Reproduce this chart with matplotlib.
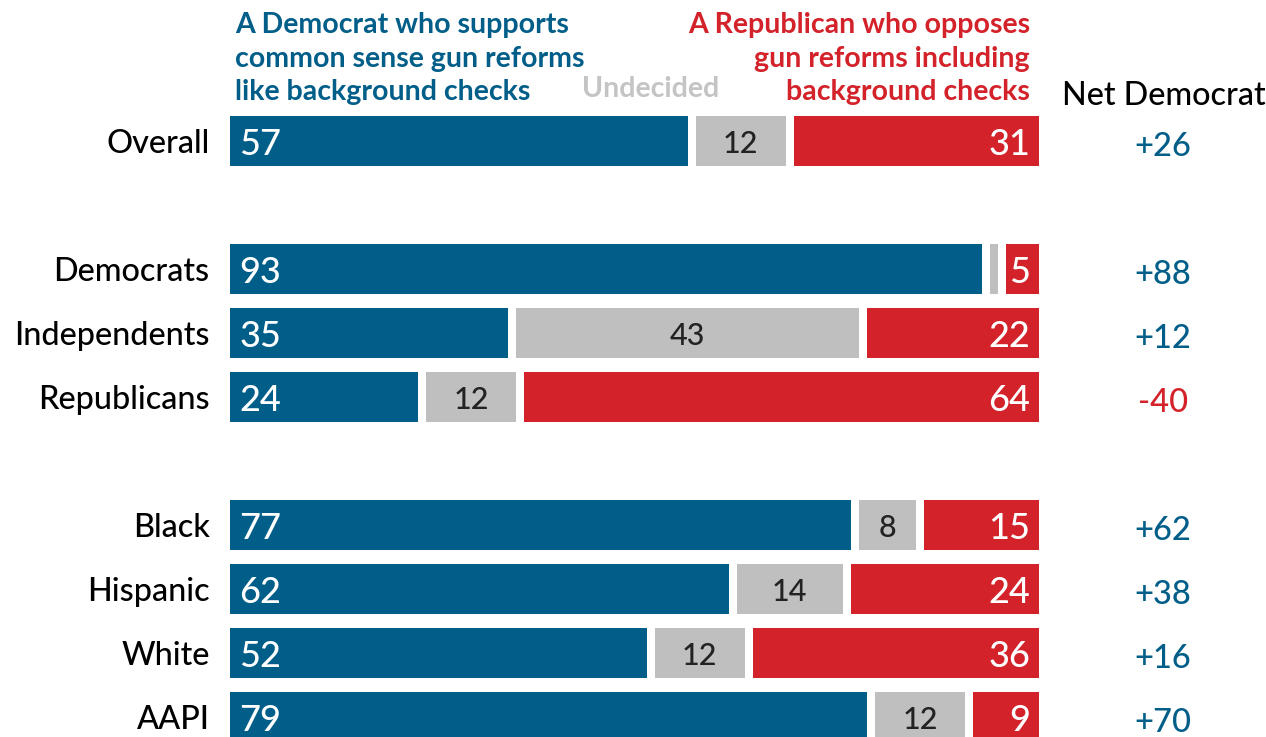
import numpy as np
import matplotlib
matplotlib.use("Agg")
import matplotlib.pyplot as plt

plt.rcParams['font.family'] = ['Lato', 'DejaVu Sans']

groups = ['Overall', 'Democrats', 'Independents', 'Republicans',
          'Black', 'Hispanic', 'White', 'AAPI']
rows = [0, 2, 3, 4, 6, 7, 8, 9]
dem = [57, 93, 35, 24, 77, 62, 52, 79]
und = [12, 2, 43, 12, 8, 14, 12, 12]
rep = [31, 5, 22, 64, 15, 24, 36, 9]
net = ['+26', '+88', '+12', '-40', '+62', '+38', '+16', '+70']

dem_head = ['A Democrat who supports', 'common sense gun reforms', 'like background checks']
rep_head = ['A Republican who opposes', 'gun reforms including', 'background checks']

BLUE = '#005e89'
RED = '#d3222a'
GRAY = '#bfbfbf'

fig = plt.figure(figsize=(12.66, 7.37), dpi=100)
ax = fig.add_axes([0, 0, 1, 1])
ppu = 8.17          # pixels per percentage point
x0 = 226            # pixel position of 0
ax.set_xlim(-x0 / ppu, (1266 - x0) / ppu)
ax.set_ylim((737 - 141) / 64, -141 / 64)
ax.axis('off')

gap = 4 / ppu
h = 50 / 64
dy = 0.05
for r, d, u, p, n in zip(rows, dem, und, rep, net):
    segs = [(0, d, BLUE), (d, u, GRAY), (d + u, p, RED)]
    for left, w, c in segs:
        ax.barh(r, w - 2 * gap, left=left + gap, height=h, color=c, linewidth=0)
    ax.text(1.6, r + dy, str(d), color='white', fontsize=26, fontweight='medium',
            va='center', ha='left')
    if u >= 5:
        ax.text(d + u / 2, r + dy, str(u), color='#222222', fontsize=22,
                fontweight='medium', va='center', ha='center')
    ax.text(98.4, r + dy, str(p), color='white', fontsize=26, fontweight='medium',
            va='center', ha='right')
    ax.text(114.7, r + 0.1, n, color=RED if n.startswith('-') else BLUE,
            fontsize=23.5, fontweight='medium', va='center', ha='center')

for g, r in zip(groups, rows):
    ax.text(-2.0, r + dy, g, color='black', fontsize=23.3, fontweight='medium',
            va='center', ha='right')

# column headers
for i, (a, b) in enumerate(zip(dem_head, rep_head)):
    yy = 1 - (25 + 33.5 * i) / 737
    fig.text(235 / 1266, yy, a, color=BLUE, fontsize=20.5, fontweight='bold',
             ha='left', va='center')
    fig.text(1030 / 1266, yy, b, color=RED, fontsize=20.5, fontweight='bold',
             ha='right', va='center')
fig.text(651 / 1266, 1 - 89 / 737, 'Undecided', color='#c4c4c4', fontsize=20.5,
         fontweight='bold', ha='center', va='center')
fig.text(1164 / 1266, 1 - 96 / 737, 'Net Democrat', color='black', fontsize=23.3,
         fontweight='medium', ha='center', va='center')

fig.savefig('out.png', dpi=100)
